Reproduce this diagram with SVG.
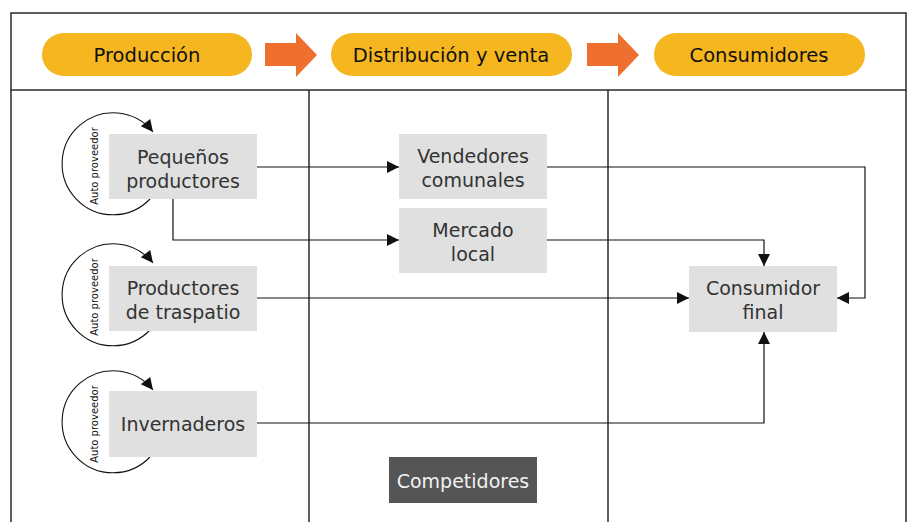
<svg xmlns="http://www.w3.org/2000/svg" width="908" height="522" viewBox="0 0 908 522">
<style>
.frame{fill:none;stroke:#2a2a2a;stroke-width:1.5}
.pill{fill:#f5b61f}
.harrow{fill:#ef6f2e}
.htext{font-family:"DejaVu Sans","Open Sans",sans-serif;font-size:19.5px;fill:#111;text-anchor:middle}
.box{fill:#dfe0df}
.ntext{font-family:"DejaVu Sans","Open Sans",sans-serif;font-size:19px;fill:#333;text-anchor:middle}
.conn{fill:none;stroke:#111;stroke-width:1.2}
.loop{fill:none;stroke:#111;stroke-width:1.1}
.ltext{font-family:"DejaVu Sans","Open Sans",sans-serif;font-size:10px;fill:#111;text-anchor:middle}
</style>
<defs>
<marker id="ah" viewBox="0 0 10 10" refX="10" refY="5" markerWidth="15" markerHeight="12" markerUnits="userSpaceOnUse" orient="auto">
<path d="M0,0 L10,5 L0,10 Z" fill="#111"/>
</marker>
</defs>
<rect width="908" height="522" fill="#fff"/>
<g id="frame">
<rect class="frame" x="11" y="13" width="895" height="77"/>
<path class="frame" d="M11,90 V522 M309,90 V522 M608,90 V522 M906,90 V522"/>
</g>
<g id="header">
<rect class="pill" x="42" y="33" width="210" height="43" rx="21.5"/>
<text class="htext" x="147" y="62">Producción</text>
<path class="harrow" d="M265,43 H296 V33 L317,55 L296,77 V66 H265 Z"/>
<rect class="pill" x="331" y="33" width="241" height="43" rx="21.5"/>
<text class="htext" x="451" y="62">Distribución y venta</text>
<path class="harrow" d="M587,43 H618 V33 L639,55 L618,77 V66 H587 Z"/>
<rect class="pill" x="654" y="33" width="211" height="43" rx="21.5"/>
<text class="htext" x="759" y="62">Consumidores</text>
</g>
<g id="connectors">
<path class="conn" d="M257,167 H399" marker-end="url(#ah)"/>
<path class="conn" d="M173,199 V240 H399" marker-end="url(#ah)"/>
<path class="conn" d="M547,167 H865 V298 H837" marker-end="url(#ah)"/>
<path class="conn" d="M547,240 H764 V266" marker-end="url(#ah)"/>
<path class="conn" d="M257,298 H689" marker-end="url(#ah)"/>
<path class="conn" d="M257,423 H764 V332" marker-end="url(#ah)"/>
</g>
<g id="loop1">
<path class="loop" d="M150,199 A51,51 0 1 1 153,132" marker-end="url(#ah)"/>
<text class="ltext" transform="translate(98,166) rotate(-90)">Auto proveedor</text>
</g>
<g id="loop2">
<path class="loop" d="M150,330 A51,51 0 1 1 153,263" marker-end="url(#ah)"/>
<text class="ltext" transform="translate(98,297) rotate(-90)">Auto proveedor</text>
</g>
<g id="loop3">
<path class="loop" d="M150,457 A51,51 0 1 1 153,390" marker-end="url(#ah)"/>
<text class="ltext" transform="translate(98,424) rotate(-90)">Auto proveedor</text>
</g>
<g id="pequenos">
<rect class="box" x="109" y="134" width="148" height="65"/>
<text class="ntext" x="183" y="164">Pequeños<tspan x="183" dy="24">productores</tspan></text>
</g>
<g id="traspatio">
<rect class="box" x="109" y="266" width="148" height="65"/>
<text class="ntext" x="183" y="295">Productores<tspan x="183" dy="24">de traspatio</tspan></text>
</g>
<g id="invernaderos">
<rect class="box" x="109" y="391" width="148" height="66"/>
<text class="ntext" x="183" y="431">Invernaderos</text>
</g>
<g id="vendedores">
<rect class="box" x="399" y="134" width="148" height="65"/>
<text class="ntext" x="473" y="163">Vendedores<tspan x="473" dy="24">comunales</tspan></text>
</g>
<g id="mercado">
<rect class="box" x="399" y="208" width="148" height="65"/>
<text class="ntext" x="473" y="237">Mercado<tspan x="473" dy="24">local</tspan></text>
</g>
<g id="consumidor">
<rect class="box" x="689" y="266" width="148" height="66"/>
<text class="ntext" x="763" y="295">Consumidor<tspan x="763" dy="24">final</tspan></text>
</g>
<g id="competidores">
<rect x="389" y="457" width="148" height="46" fill="#545554"/>
<text class="ntext" x="463" y="488" style="fill:#f2f2f2">Competidores</text>
</g>
</svg>
